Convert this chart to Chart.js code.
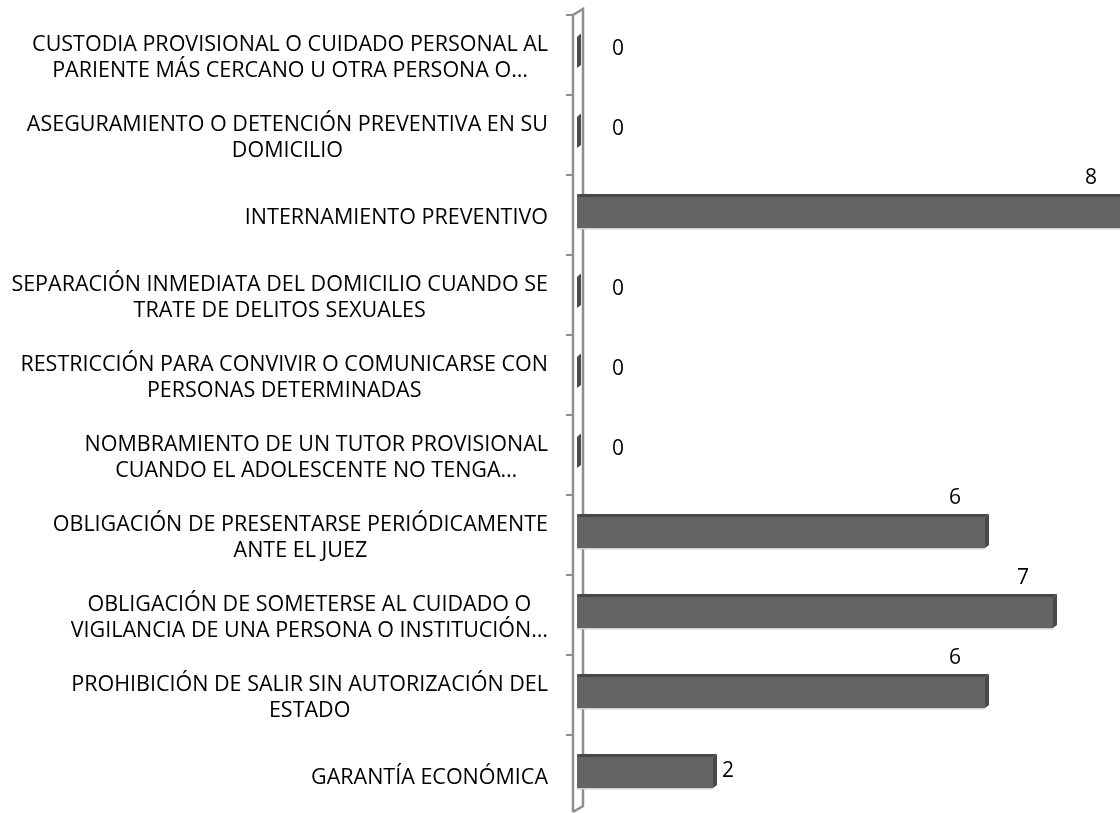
<!DOCTYPE html>
<html>
<head>
<meta charset="utf-8">
<script src="https://cdn.jsdelivr.net/npm/chart.js@4.4.1/dist/chart.umd.min.js"></script>
<style>
  html, body { margin: 0; padding: 0; background: #fff; overflow: hidden; }
  #wrap { width: 1192px; height: 820px; }
</style>
</head>
<body>
<div id="wrap"><canvas id="chart" width="1192" height="820"></canvas></div>
<script>
const categories = [
  ['CUSTODIA PROVISIONAL O CUIDADO PERSONAL AL', 'PARIENTE MÁS CERCANO U OTRA PERSONA O…'],
  ['ASEGURAMIENTO O DETENCIÓN PREVENTIVA EN SU', 'DOMICILIO'],
  ['INTERNAMIENTO PREVENTIVO'],
  ['SEPARACIÓN INMEDIATA DEL DOMICILIO CUANDO SE', 'TRATE DE DELITOS SEXUALES'],
  ['RESTRICCIÓN PARA CONVIVIR O COMUNICARSE CON', 'PERSONAS DETERMINADAS'],
  ['NOMBRAMIENTO DE UN TUTOR PROVISIONAL', 'CUANDO EL ADOLESCENTE NO TENGA…'],
  ['OBLIGACIÓN DE PRESENTARSE PERIÓDICAMENTE', 'ANTE EL JUEZ'],
  ['OBLIGACIÓN DE SOMETERSE AL CUIDADO O', 'VIGILANCIA DE UNA PERSONA O INSTITUCIÓN…'],
  ['PROHIBICIÓN DE SALIR SIN AUTORIZACIÓN DEL', 'ESTADO'],
  ['GARANTÍA ECONÓMICA']
];
const values = [0, 0, 8, 0, 0, 0, 6, 7, 6, 2];

const FONT = '"Open Sans", "Liberation Sans", sans-serif';
const DEPTH = 4;

// category labels, right edge fixed, lines centred on each other (Excel style)
const labelPlugin = {
  id: 'catLabels',
  afterDraw(chart) {
    const ctx = chart.ctx, ys = chart.scales.y;
    const right = chart.chartArea.left - 29;
    ctx.save();
    ctx.font = '21.5px ' + FONT;
    ctx.fillStyle = '#000';
    ctx.textAlign = 'center';
    ctx.textBaseline = 'middle';
    categories.forEach((lines, i) => {
      const y = ys.getPixelForValue(i) + DEPTH + 3;
      const w = Math.max(...lines.map(l => ctx.measureText(l).width));
      const cx = right - w / 2;
      const y0 = y - (lines.length - 1) * 13;
      lines.forEach((l, k) => ctx.fillText(l, cx, y0 + k * 26));
    });
    ctx.restore();
  }
};

// 3D wall behind the bars
const wallPlugin = {
  id: 'wall',
  beforeDatasetsDraw(chart) {
    const ctx = chart.ctx, ca = chart.chartArea, ys = chart.scales.y;
    const front = ca.left - 4, back = ca.left + 6;
    const top = ca.top + DEPTH, bottom = ca.bottom + 1;
    ctx.save();
    ctx.strokeStyle = '#8e8e8e';
    ctx.lineWidth = 2.5;
    ctx.beginPath();
    ctx.moveTo(front, bottom); ctx.lineTo(front, top); ctx.lineTo(back, top - 6); ctx.lineTo(back, bottom - 6);
    ctx.lineTo(front, bottom);
    ctx.stroke();
    ctx.lineWidth = 2;
    ctx.beginPath();
    const step = ys.getPixelForValue(1) - ys.getPixelForValue(0);
    for (let i = 0; i < categories.length; i++) {
      const yb = ys.getPixelForValue(i) - step / 2 + DEPTH;
      ctx.moveTo(front - 7, yb); ctx.lineTo(front, yb);
    }
    ctx.stroke();
    ctx.restore();
  }
};

// top and side faces of the bars, and the value labels
const facePlugin = {
  id: 'faces',
  afterDatasetsDraw(chart) {
    const ctx = chart.ctx;
    const meta = chart.getDatasetMeta(0);
    ctx.save();
    meta.data.forEach((el, i) => {
      const top = el.y - el.height / 2, bottom = el.y + el.height / 2;
      const x = el.x, base = el.base;
      ctx.fillStyle = '#cfcfcf';
      ctx.fillRect(base, bottom, x - base, 1.5);
      ctx.fillStyle = '#474747';
      ctx.beginPath();
      ctx.moveTo(base, top + 3); ctx.lineTo(base + 3, top); ctx.lineTo(x + DEPTH, top); ctx.lineTo(x, top + 3);
      ctx.closePath(); ctx.fill();
      ctx.fillStyle = '#4a4a4a';
      ctx.beginPath();
      ctx.moveTo(x, top + 3); ctx.lineTo(x + DEPTH, top); ctx.lineTo(x + DEPTH, bottom - 3); ctx.lineTo(x, bottom);
      ctx.closePath(); ctx.fill();

      ctx.fillStyle = '#000';
      ctx.font = '21px ' + FONT;
      ctx.textBaseline = 'middle';
      const v = values[i];
      if (v === 0) {
        ctx.textAlign = 'center';
        ctx.fillText(v, base + 41, el.y - 2);
      } else if (x - base < 200) {
        ctx.textAlign = 'left';
        ctx.fillText(v, x + DEPTH + 5, el.y);
      } else {
        ctx.textAlign = 'center';
        ctx.fillText(v, x + DEPTH - 34, top - 16);
      }
    });
    ctx.restore();
  }
};

new Chart(document.getElementById('chart'), {
  type: 'bar',
  data: {
    labels: categories,
    datasets: [{
      data: values,
      backgroundColor: '#646464',
      borderWidth: 0,
      barPercentage: 0.425,
      categoryPercentage: 1
    }]
  },
  options: {
    indexAxis: 'y',
    responsive: false,
    animation: false,
    layout: { padding: { top: 11, bottom: 9, right: 3, left: 0 } },
    plugins: { legend: { display: false }, tooltip: { enabled: false } },
    scales: {
      x: { display: false, min: 0, max: 9 },
      y: {
        ticks: { display: false },
        grid: { display: false },
        border: { display: false },
        afterFit(s) { s.width = 577; }
      }
    }
  },
  plugins: [labelPlugin, wallPlugin, facePlugin]
});
</script>
</body>
</html>
